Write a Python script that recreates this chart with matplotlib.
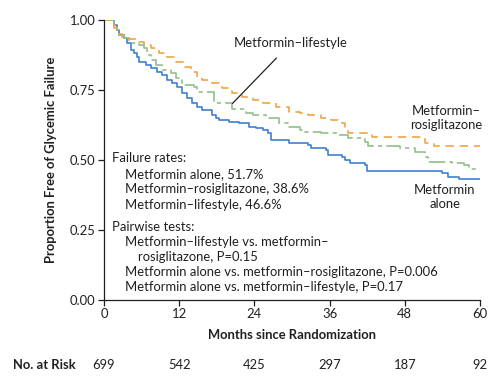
"""Kaplan-Meier style chart: proportion free of glycemic failure by treatment arm."""

import matplotlib

matplotlib.use("Agg")
import matplotlib.pyplot as plt
from matplotlib.transforms import blended_transform_factory

plt.rcParams["font.family"] = ["Lato", "DejaVu Sans"]

# Step times (months) and survival values for each arm.
alone_t = [0, 1.6, 2.0, 2.4, 3.2, 3.7, 4.3, 4.8, 5.3, 5.6, 6.7, 7.5, 8.5, 9.3,
           10.1, 10.9, 11.7, 12.5, 13.3, 14.1, 14.9, 15.7, 17.3, 17.9, 18.4,
           20.0, 21.6, 23.2, 24.3, 25.3, 26.1, 26.7, 29.6, 32.5, 33.0, 35.5,
           35.8, 37.9, 38.4, 39.2, 41.6, 41.9, 53.9, 54.9, 56.7, 60]
alone_s = [1.0, 0.982, 0.964, 0.946, 0.935, 0.917, 0.893, 0.881, 0.869, 0.851,
           0.839, 0.827, 0.815, 0.804, 0.786, 0.774, 0.762, 0.738, 0.72, 0.702,
           0.69, 0.679, 0.661, 0.649, 0.643, 0.637, 0.631, 0.619, 0.613, 0.607,
           0.595, 0.571, 0.56, 0.554, 0.542, 0.536, 0.518, 0.512, 0.5, 0.488,
           0.482, 0.462, 0.455, 0.44, 0.432, 0.432]

rosi_t = [0, 1.6, 2.1, 2.9, 4.0, 5.3, 6.4, 7.5, 8.8, 9.9, 11.5, 12.8, 13.9,
          14.9, 15.7, 17.3, 18.9, 20.5, 22.1, 23.7, 25.3, 27.5, 29.6, 31.2,
          32.5, 34.7, 36.3, 37.3, 38.4, 38.9, 42.7, 51.2, 52.6, 60]
rosi_s = [1.0, 0.970, 0.949, 0.94, 0.932, 0.923, 0.911, 0.899, 0.881, 0.869,
          0.851, 0.833, 0.815, 0.798, 0.786, 0.774, 0.756, 0.738, 0.726, 0.714,
          0.702, 0.69, 0.672, 0.667, 0.661, 0.649, 0.643, 0.631, 0.619, 0.595,
          0.581, 0.562, 0.551, 0.551]

life_t = [0, 1.6, 2.0, 2.4, 3.2, 4.0, 5.6, 6.4, 6.9, 7.5, 8.3, 9.3, 10.7, 11.5,
          12.5, 14.4, 14.9, 17.6, 20.5, 22.7, 23.7, 25.9, 28.0, 29.6, 31.2,
          32.0, 34.7, 37.3, 38.9, 41.6, 42.1, 47.2, 49.6, 51.2, 51.7, 55.5,
          57.5, 58.3, 60]
life_s = [1.0, 0.982, 0.964, 0.946, 0.935, 0.917, 0.911, 0.899, 0.875, 0.857,
          0.839, 0.821, 0.81, 0.792, 0.768, 0.762, 0.742, 0.705, 0.681, 0.669,
          0.661, 0.649, 0.631, 0.619, 0.607, 0.601, 0.595, 0.589, 0.577, 0.565,
          0.55, 0.542, 0.53, 0.512, 0.494, 0.488, 0.482, 0.467, 0.467]

risk_months = [0, 12, 24, 36, 48, 60]
risk_counts = [699, 542, 425, 297, 187, 92]

failure_lines = [
    "Metformin alone, 51.7%",
    "Metformin\u2013rosiglitazone, 38.6%",
    "Metformin\u2013lifestyle, 46.6%",
]

BLUE = "#3f7fd0"
ORANGE = "#f0a444"
GREEN = "#93bf8c"
INK = "#231f20"
FS = 9.4

fig = plt.figure(figsize=(5.0, 3.86), dpi=100)
ax = fig.add_axes([0.208, 0.223, 0.752, 0.725])

ax.plot(alone_t, alone_s, drawstyle="steps-post", color=BLUE, lw=1.2)
ax.plot(life_t, life_s, drawstyle="steps-post", color=GREEN, lw=1.2,
        linestyle=(0, (10, 2.5, 2.5, 2.5)))
ax.plot(rosi_t, rosi_s, drawstyle="steps-post", color=ORANGE, lw=1.2,
        linestyle=(0, (5, 3.5)))

ax.set_xlim(0, 60)
ax.set_ylim(0, 1.0)
ax.set_xticks(risk_months)
ax.set_yticks([0, 0.25, 0.5, 0.75, 1.0])
ax.set_yticklabels([f"{v:.2f}" for v in [0, 0.25, 0.5, 0.75, 1.0]])
for side in ("top", "right"):
    ax.spines[side].set_visible(False)
for side in ("left", "bottom"):
    ax.spines[side].set_color(INK)
    ax.spines[side].set_linewidth(0.9)
ax.tick_params(direction="out", length=4, width=0.9, color=INK,
               labelsize=FS, labelcolor=INK, pad=2)

ax.set_xlabel("Months since Randomization", fontsize=FS, fontweight="bold",
              color=INK, labelpad=6)
ax.set_ylabel("Proportion Free of Glycemic Failure", fontsize=FS,
              fontweight="bold", color=INK, labelpad=9)

# Curve labels
ax.annotate("Metformin\u2013lifestyle", xy=(20.5, 0.702), xytext=(29.8, 0.917),
            ha="center", va="center", fontsize=FS, color=INK,
            arrowprops=dict(arrowstyle="-", color=INK, lw=0.9,
                            shrinkA=6, shrinkB=0))
ax.text(54.6, 0.65, "Metformin\u2013\nrosiglitazone", ha="center", va="center",
        fontsize=FS, color=INK, linespacing=1.2)
ax.text(54.4, 0.368, "Metformin\nalone", ha="center", va="center",
        fontsize=FS, color=INK, linespacing=1.2)

# Statistics block
ax.text(1.2, 0.507, "Failure rates:", fontsize=FS, color=INK, va="center")
for i, line in enumerate(failure_lines):
    ax.text(3.35, 0.451 - i * 0.0555, line, fontsize=FS, color=INK, va="center")
ax.text(1.2, 0.261, "Pairwise tests:", fontsize=FS, color=INK, va="center")
ax.text(3.35, 0.207, "Metformin\u2013lifestyle vs. metformin\u2013",
        fontsize=FS, color=INK, va="center")
ax.text(5.45, 0.154, "rosiglitazone, P=0.15", fontsize=FS, color=INK,
        va="center")
ax.text(3.35, 0.098, "Metformin alone vs. metformin\u2013rosiglitazone, P=0.006",
        fontsize=FS, color=INK, va="center")
ax.text(3.35, 0.046, "Metformin alone vs. metformin\u2013lifestyle, P=0.17",
        fontsize=FS, color=INK, va="center")

# Number at risk row
trans = blended_transform_factory(ax.transData, fig.transFigure)
for m, n in zip(risk_months, risk_counts):
    ax.text(m, 0.055, str(n), transform=trans, ha="center", va="center",
            fontsize=FS, color=INK, clip_on=False)
fig.text(0.026, 0.055, "No. at Risk", ha="left", va="center", fontsize=FS,
         fontweight="bold", color=INK)

fig.savefig("out.png", dpi=100, facecolor="white")
